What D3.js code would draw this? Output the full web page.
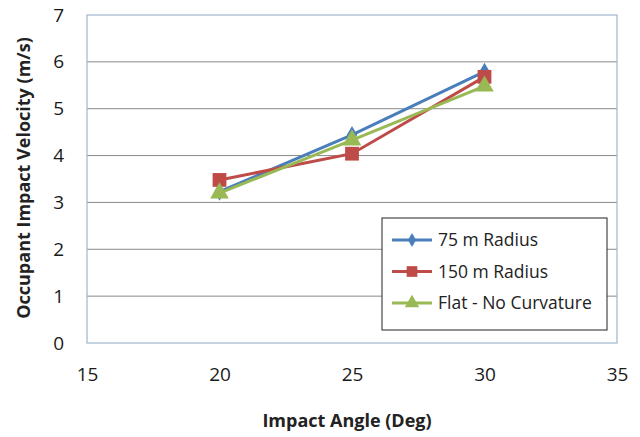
<!DOCTYPE html>
<html>
<head>
<meta charset="utf-8">
<script src="https://cdn.jsdelivr.net/npm/d3@7"></script>
<style>
  html, body { margin: 0; padding: 0; background: #fff; }
  svg { display: block; font-family: "Open Sans", Lato, "Liberation Sans", sans-serif; }
</style>
</head>
<body>
<svg id="chart" width="640" height="437"></svg>
<script>
// Impact angle (deg) on the x axis
const angles = [20, 25, 30];
// Occupant impact velocity (m/s) for each road profile
const radius75 = [3.23, 4.44, 5.79];
const radius150 = [3.48, 4.04, 5.68];
const flatNoCurve = [3.2, 4.33, 5.48];

const seriesNames = ["75 m Radius", "150 m Radius", "Flat - No Curvature"];
const seriesColors = ["#4A7EBB", "#BE4B48", "#98B954"];
const seriesMarkers = ["diamond", "square", "triangle"];
const xTicks = [15, 20, 25, 30, 35];
const yTicks = [0, 1, 2, 3, 4, 5, 6, 7];

const series = [radius75, radius150, flatNoCurve].map((vals, i) => ({
  name: seriesNames[i], color: seriesColors[i], marker: seriesMarkers[i],
  points: vals.map((v, j) => ({ x: angles[j], y: v }))
}));

const svg = d3.select("#chart");
const plot = { left: 87, right: 617, top: 15, bottom: 343 };
const font = "'Open Sans', sans-serif";

const x = d3.scaleLinear().domain([15, 35]).range([plot.left, plot.right]);
const y = d3.scaleLinear().domain([0, 7]).range([plot.bottom, plot.top]);

// horizontal gridlines
svg.append("g").selectAll("line").data(yTicks.filter(t => t > 0 && t < 7)).join("line")
  .attr("x1", plot.left).attr("x2", plot.right)
  .attr("y1", d => y(d)).attr("y2", d => y(d))
  .attr("stroke", "#8a8a8a").attr("stroke-width", 1);

// plot frame
svg.append("rect")
  .attr("x", plot.left).attr("y", plot.top)
  .attr("width", plot.right - plot.left).attr("height", plot.bottom - plot.top)
  .attr("fill", "none").attr("stroke", "#9fb6cc").attr("stroke-width", 1.2);

// y axis labels
const yAxis = d3.axisLeft(y).tickValues(yTicks).tickSize(0).tickPadding(23).tickFormat(d3.format("d"));
svg.append("g").attr("transform", `translate(${plot.left},0)`).call(yAxis)
  .call(g => g.select(".domain").remove())
  .selectAll("text").attr("font-size", 19).attr("fill", "#1a1a1a")
  .style("font-family", font);

// x axis labels
const xAxis = d3.axisBottom(x).tickValues(xTicks).tickSize(0).tickPadding(25).tickFormat(d3.format("d"));
svg.append("g").attr("transform", `translate(0,${plot.bottom})`).call(xAxis)
  .call(g => g.select(".domain").remove())
  .selectAll("text").attr("font-size", 19).attr("fill", "#1a1a1a")
  .style("font-family", font);

// axis titles
svg.append("text").attr("x", 347).attr("y", 427)
  .attr("text-anchor", "middle").attr("font-size", 18).attr("font-weight", "bold")
  .attr("fill", "#222").style("font-family", font).text("Impact Angle (Deg)");
svg.append("text").attr("transform", `translate(30,178) rotate(-90)`)
  .attr("text-anchor", "middle").attr("font-size", 18).attr("font-weight", "bold")
  .attr("fill", "#222").style("font-family", font).text("Occupant Impact Velocity (m/s)");

const symbolType = { diamond: d3.symbolDiamond, square: d3.symbolSquare, triangle: d3.symbolTriangle };
const symbolSize = { diamond: 95, square: 190, triangle: 150 };

const line = d3.line().x(d => x(d.x)).y(d => y(d.y));

// series lines and markers
series.forEach(s => {
  svg.append("path").datum(s.points).attr("d", line)
    .attr("fill", "none").attr("stroke", s.color).attr("stroke-width", 3);
  svg.append("g").selectAll("path").data(s.points).join("path")
    .attr("transform", d => `translate(${x(d.x)},${y(d.y)})`)
    .attr("d", d3.symbol().type(symbolType[s.marker]).size(symbolSize[s.marker]))
    .attr("fill", s.color);
});

// legend
const legend = svg.append("g");
legend.append("rect").attr("x", 382).attr("y", 218).attr("width", 225).attr("height", 112)
  .attr("fill", "#fff").attr("stroke", "#222").attr("stroke-width", 1);
series.forEach((s, i) => {
  const ly = 240 + i * 31.5;
  legend.append("line").attr("x1", 392).attr("x2", 432).attr("y1", ly).attr("y2", ly)
    .attr("stroke", s.color).attr("stroke-width", 3);
  legend.append("path").attr("transform", `translate(412,${ly})`)
    .attr("d", d3.symbol().type(symbolType[s.marker]).size(symbolSize[s.marker] * 0.6))
    .attr("fill", s.color);
  legend.append("text").attr("x", 438).attr("y", ly).attr("dy", "0.35em")
    .attr("font-size", 17.5).attr("fill", "#222").style("font-family", font).text(s.name);
});
</script>
</body>
</html>
